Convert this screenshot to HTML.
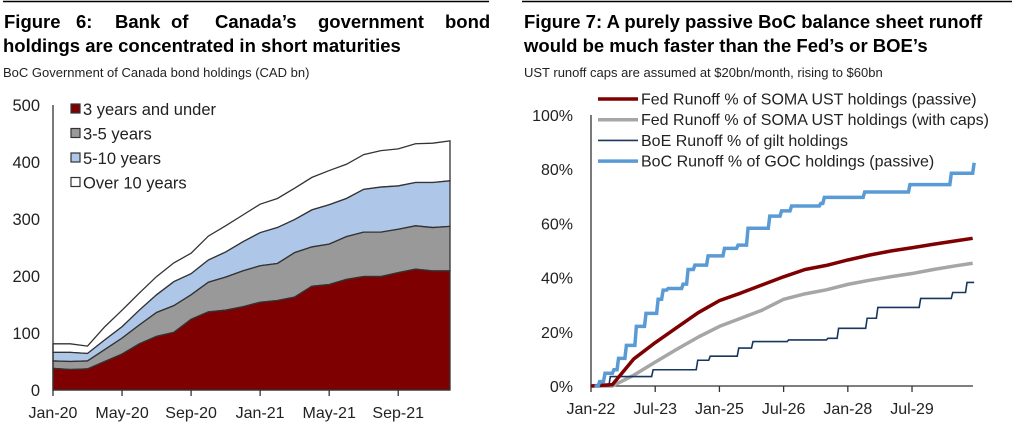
<!DOCTYPE html>
<html><head><meta charset="utf-8"><style>
body{margin:0;background:#fff;width:1016px;height:426px;overflow:hidden;font-family:"Liberation Sans",sans-serif}
svg{display:block}
</style></head><body>
<svg id="s" width="1016" height="426" font-family="Liberation Sans, sans-serif">
<line x1="3" y1="1.5" x2="489" y2="1.5" stroke="#000" stroke-width="1.5"/>
<line x1="522" y1="1.5" x2="1012" y2="1.5" stroke="#000" stroke-width="1.5"/>
<g font-size="18.5" font-weight="bold">
<text x="4" y="28">Figure</text><text x="76" y="28">6:</text><text x="115" y="28">Bank</text><text x="171" y="28">of</text><text x="215" y="28">Canada’s</text><text x="318" y="28">government</text><text x="445" y="28">bond</text>
</g>
<text x="3" y="52" font-size="18.5" font-weight="bold">holdings are concentrated in short maturities</text>
<text x="3" y="77" font-size="13" fill="#222">BoC Government of Canada bond holdings (CAD bn)</text>
<text x="524" y="28" font-size="18.5" font-weight="bold">Figure 7: A purely passive BoC balance sheet runoff</text>
<text x="524" y="52" font-size="18.5" font-weight="bold">would be much faster than the Fed’s or BOE’s</text>
<text x="524" y="77" font-size="13" fill="#222">UST runoff caps are assumed at $20bn/month, rising to $60bn</text>
<g id="left"></g><g id="right"></g>
</svg>
<script>
// ---- Left chart data (CAD bn per bucket) ----
const leftMonths=["Jan-20","Feb-20","Mar-20","Apr-20","May-20","Jun-20","Jul-20","Aug-20","Sep-20","Oct-20","Nov-20","Dec-20","Jan-21","Feb-21","Mar-21","Apr-21","May-21","Jun-21","Jul-21","Aug-21","Sep-21","Oct-21","Nov-21","Dec-21"];
const under3=[38,36,37,50,63,81,94,101,124,137,140,146,154,157,163,182,185,194,199,199,206,212,209,209];
const y3to5=[13,14,14,21,28,33,42,47,43,52,58,63,64,65,78,69,71,75,78,78,76,76,76,78];
const y5to10=[15,16,13,17,20,26,31,42,37,39,44,51,58,63,58,65,69,67,75,79,76,76,79,80];
const over10=[15,15,13,23,29,30,32,33,36,42,46,47,50,51,55,57,60,60,61,64,65,68,69,70];
const leftTicks=[0,100,200,300,400,500];
const leftXLabels=["Jan-20","May-20","Sep-20","Jan-21","May-21","Sep-21"];
// ---- Right chart data (% runoff); month index from Jan-22 ----
const fedMonths=[0,6,12,18,24,30,36,42,48,54,60,66,72,78,84,90,96,102,107];
const fedPassive=[0,0.5,10,16,21.5,27,31.5,34.3,37.3,40.3,43,44.5,46.5,48.3,49.8,51,52.3,53.5,54.5];
const fedCaps=[0,0,4,8.8,13.5,18,22,25,28,32,34,35.5,37.5,39,40.3,41.5,43,44.3,45.3];
const boeMonths=[0,5,17,29.5,33,41,45,55,66,69,77,80,92,101,105,107];
const boeVals=[0,3.5,6,9.5,11,14,16.4,17,17.6,21.3,25,29,32.3,34.5,38.2,38.2];
const bocMonths=[2,3.5,6,7.3,9.5,12.3,15,18.4,19.8,21.2,25.4,26.8,28.7,32.4,37,40.8,43.6,49.7,53,55.8,64,65,76.3,89,100.6,106.5,107];
const bocVals=[1.6,4.7,6,10.2,15,22,26.8,32,35.4,36,37.6,43,44.6,48,50.8,52,58.2,62.7,64.6,66.4,67.4,69.6,71.6,74.3,78.5,78.5,82.4];
const rightTicks=[0,20,40,60,80,100];
const rightXLabels=["Jan-22","Jul-23","Jan-25","Jul-26","Jan-28","Jul-29"];

const NS="http://www.w3.org/2000/svg";
function mk(p,tag,a){const e=document.createElementNS(NS,tag);for(const k in a)e.setAttribute(k,a[k]);p.appendChild(e);return e;}

// Left
const L=document.getElementById('left');
const lx=i=>53+i*(397/23), ly=v=>390-v*0.57;
const layers=[under3,y3to5,y5to10,over10];
const cols=["#7f0000","#999999","#aec7e8","#ffffff"];
const lnames=["area-3-years-and-under","area-3-5-years","area-5-10-years","area-over-10-years"];
let base=under3.map(()=>0);
const tops=[];
layers.forEach((arr,k)=>{const top=arr.map((v,i)=>base[i]+v);tops.push({top,base:base.slice()});base=top;});
for(let k=3;k>=0;k--){
 const {top,base:b}=tops[k];
 let d="M"+top.map((v,i)=>lx(i)+","+ly(v)).join("L");
 for(let i=b.length-1;i>=0;i--)d+="L"+lx(i)+","+ly(b[i]);
 const p=mk(L,'path',{d:d+"Z",fill:cols[k],stroke:"#333","stroke-width":1.3});
 
 
}
const la=mk(L,'path',{d:"M53,105V390H450",fill:"none",stroke:"#333","stroke-width":1.3});


leftTicks.forEach(v=>{const t=mk(L,'text',{x:40,y:ly(v)+6,"text-anchor":"end","font-size":16.5,fill:"#222"});t.textContent=v;
 
 });
leftXLabels.forEach((s,j)=>{const i=leftMonths.indexOf(s);
 mk(L,'line',{x1:lx(i),x2:lx(i),y1:390,y2:396,stroke:"#333","stroke-width":1.3});
 const t=mk(L,'text',{x:lx(i),y:418,"text-anchor":"middle","font-size":16,fill:"#222"});t.textContent=s;
 
 });
["3 years and under","3-5 years","5-10 years","Over 10 years"].forEach((s,k)=>{
 const y=110+k*24.5;
 const r=mk(L,'rect',{x:71,y:y-6,width:9,height:9,fill:cols[k],stroke:"#333","stroke-width":1.2});
 
 
 const t=mk(L,'text',{x:83,y:y+5,"font-size":16.5,fill:"#222"});t.textContent=s;
 
 
});

// Right
const R=document.getElementById('right');
const rx=m=>591+m*3.567, ry=v=>386-v*2.71;
const ra=mk(R,'path',{d:"M591,115V386H973",fill:"none",stroke:"#333","stroke-width":1.3});


rightTicks.forEach(v=>{const t=mk(R,'text',{x:573,y:ry(v)+6,"text-anchor":"end","font-size":16,fill:"#222"});t.textContent=v+"%";
 
 });
rightXLabels.forEach((s,j)=>{const m=j*18;
 mk(R,'line',{x1:rx(m),x2:rx(m),y1:386,y2:392,stroke:"#333","stroke-width":1.3});
 const t=mk(R,'text',{x:rx(m),y:414,"text-anchor":"middle","font-size":16,fill:"#222"});t.textContent=s;
 
 });
function line(ms,vs){return "M"+ms.map((m,i)=>rx(m)+","+ry(vs[i])).join("L");}
function step(ms,vs,start){let d="M"+rx(start)+","+ry(0);ms.forEach((m,i)=>{d+="L"+rx(m)+","+ry(i?vs[i-1]:0)+"L"+(rx(m)+1.5)+","+ry(vs[i]);});return d;}
const pc=mk(R,'path',{d:line(fedMonths,fedCaps),fill:"none",stroke:"#a6a6a6","stroke-width":3.5,"stroke-linejoin":"round"});


const pb=mk(R,'path',{d:step(boeMonths,boeVals,0),fill:"none",stroke:"#17375e","stroke-width":1.6});


const pf=mk(R,'path',{d:line(fedMonths,fedPassive),fill:"none",stroke:"#7f0000","stroke-width":3.5,"stroke-linejoin":"round"});


const pbc=mk(R,'path',{d:step(bocMonths,bocVals,1),fill:"none",stroke:"#5b9bd5","stroke-width":3.5});


[["Fed Runoff % of SOMA UST holdings (passive)","#7f0000",3.5],["Fed Runoff % of SOMA UST holdings (with caps)","#a6a6a6",3.5],["BoE Runoff % of gilt holdings","#17375e",1.6],["BoC Runoff % of GOC holdings (passive)","#5b9bd5",3.5]].forEach((e,k)=>{
 const y=99+k*20.7;
 const l=mk(R,'line',{x1:598,x2:638,y1:y,y2:y,stroke:e[1],"stroke-width":e[2]});
 
 
 const t=mk(R,'text',{x:641,y:y+5.5,"font-size":16,fill:"#222"});t.textContent=e[0];
 
 
});
</script>
</body></html>
